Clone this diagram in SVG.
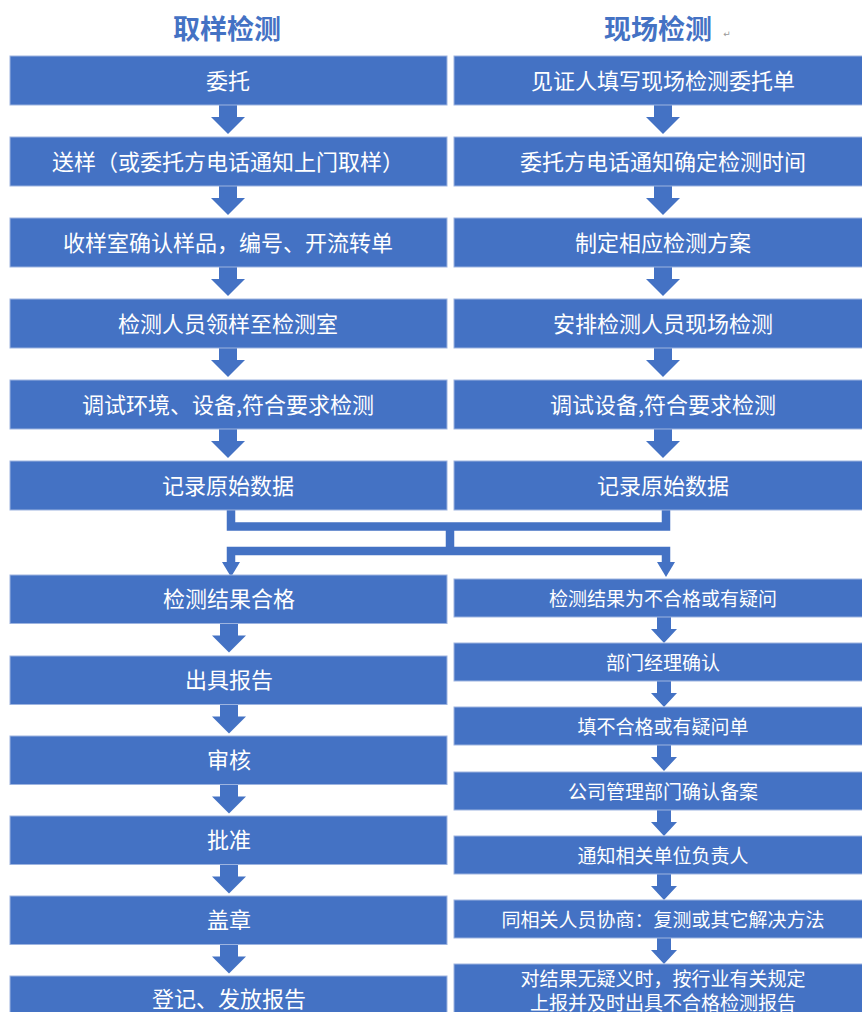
<svg xmlns="http://www.w3.org/2000/svg" width="862" height="1012" viewBox="0 0 862 1012">
<style>
.box{fill:#4472C4;stroke:#9DB4E0;stroke-width:1}
.t{fill:#fff;font-family:"Noto Sans CJK SC","Noto Sans",sans-serif;text-anchor:middle;dominant-baseline:central}
.tl{font-size:22px}
.ts{font-size:19px}
.title{fill:#4472C4;font-family:"Noto Sans CJK SC","Noto Sans",sans-serif;font-weight:bold;font-size:27px;text-anchor:middle;dominant-baseline:central}
.ln{fill:none;stroke:#4472C4;stroke-width:8.5;stroke-linejoin:miter}
.ar{fill:#4472C4}
</style>
<defs>
<path id="big" d="M-9,0 H9 V12 H17 L0,29 L-17,12 H-9 Z"/>
<path id="small" d="M-7,0 H7 V12 H13 L0,26 L-13,12 H-7 Z"/>
</defs>
<rect width="862" height="1012" fill="#fff"/>
<g id="titles">
<text class="title" x="227" y="27">取样检测</text>
<text class="title" x="658" y="27">现场检测</text>
<text x="727" y="34" fill="#999" font-size="9" font-family="DejaVu Sans,sans-serif" text-anchor="middle" dominant-baseline="central">↵</text>
</g>
<g id="connectors">
<g class="ar">
<use href="#big" x="228" y="105"/>
<use href="#big" x="228" y="186"/>
<use href="#big" x="228" y="267"/>
<use href="#big" x="228" y="348"/>
<use href="#big" x="228" y="429"/>
<use href="#big" x="663" y="105"/>
<use href="#big" x="663" y="186"/>
<use href="#big" x="663" y="267"/>
<use href="#big" x="663" y="348"/>
<use href="#big" x="663" y="429"/>
<use href="#big" x="229" y="623.5"/>
<use href="#big" x="229" y="704.5"/>
<use href="#big" x="229" y="784.5"/>
<use href="#big" x="229" y="864.5"/>
<use href="#big" x="229" y="944.5"/>
<use href="#small" x="664" y="617"/>
<use href="#small" x="664" y="681"/>
<use href="#small" x="664" y="745"/>
<use href="#small" x="664" y="810"/>
<use href="#small" x="664" y="874"/>
<use href="#small" x="664" y="938"/>
</g>
<path class="ln" d="M231,510 V526.5 H666 V510"/>
<path class="ln" d="M450,530 V552"/>
<path class="ln" d="M231,563 V551 H666 V563"/>
<polygon class="ar" points="222,562 240,562 231,577"/>
<polygon class="ar" points="657,562 675,562 666,577"/>
</g>
<g id="n1"><rect class="box" x="10" y="56" width="437" height="49"/><text class="t tl" x="228" y="78.5">委托</text></g>
<g id="n2"><rect class="box" x="10" y="137" width="437" height="49"/><text class="t tl" x="228" y="159.5">送样（或委托方电话通知上门取样）</text></g>
<g id="n3"><rect class="box" x="10" y="218" width="437" height="49"/><text class="t tl" x="228" y="240.5">收样室确认样品，编号、开流转单</text></g>
<g id="n4"><rect class="box" x="10" y="299" width="437" height="49"/><text class="t tl" x="228" y="321.5">检测人员领样至检测室</text></g>
<g id="n5"><rect class="box" x="10" y="380" width="437" height="49"/><text class="t tl" x="228" y="402.5">调试环境、设备,符合要求检测</text></g>
<g id="n6"><rect class="box" x="10" y="461" width="437" height="49"/><text class="t tl" x="228" y="483.5">记录原始数据</text></g>
<g id="r1"><rect class="box" x="454" y="56" width="420" height="49"/><text class="t tl" x="663" y="78.5">见证人填写现场检测委托单</text></g>
<g id="r2"><rect class="box" x="454" y="137" width="420" height="49"/><text class="t tl" x="663" y="159.5">委托方电话通知确定检测时间</text></g>
<g id="r3"><rect class="box" x="454" y="218" width="420" height="49"/><text class="t tl" x="663" y="240.5">制定相应检测方案</text></g>
<g id="r4"><rect class="box" x="454" y="299" width="420" height="49"/><text class="t tl" x="663" y="321.5">安排检测人员现场检测</text></g>
<g id="r5"><rect class="box" x="454" y="380" width="420" height="49"/><text class="t tl" x="663" y="402.5">调试设备,符合要求检测</text></g>
<g id="r6"><rect class="box" x="454" y="461" width="420" height="49"/><text class="t tl" x="663" y="483.5">记录原始数据</text></g>
<g id="b1"><rect class="box" x="10" y="575" width="437" height="48.5"/><text class="t tl" x="229" y="597">检测结果合格</text></g>
<g id="b2"><rect class="box" x="10" y="656" width="437" height="48.5"/><text class="t tl" x="229" y="678">出具报告</text></g>
<g id="b3"><rect class="box" x="10" y="736" width="437" height="48.5"/><text class="t tl" x="229" y="758">审核</text></g>
<g id="b4"><rect class="box" x="10" y="816" width="437" height="48.5"/><text class="t tl" x="229" y="838">批准</text></g>
<g id="b5"><rect class="box" x="10" y="896" width="437" height="48.5"/><text class="t tl" x="229" y="918">盖章</text></g>
<g id="b6"><rect class="box" x="10" y="976" width="437" height="48.5"/><text class="t tl" x="229" y="997">登记、发放报告</text></g>
<g id="s1"><rect class="box" x="454" y="579" width="420" height="38"/><text class="t ts" x="663" y="597">检测结果为不合格或有疑问</text></g>
<g id="s2"><rect class="box" x="454" y="643" width="420" height="38"/><text class="t ts" x="663" y="661">部门经理确认</text></g>
<g id="s3"><rect class="box" x="454" y="707" width="420" height="38"/><text class="t ts" x="663" y="725">填不合格或有疑问单</text></g>
<g id="s4"><rect class="box" x="454" y="772" width="420" height="38"/><text class="t ts" x="663" y="790">公司管理部门确认备案</text></g>
<g id="s5"><rect class="box" x="454" y="836" width="420" height="38"/><text class="t ts" x="663" y="854">通知相关单位负责人</text></g>
<g id="s6"><rect class="box" x="454" y="900" width="420" height="38"/><text class="t ts" x="663" y="918">同相关人员协商：复测或其它解决方法</text></g>
<g id="s7"><rect class="box" x="454" y="964" width="420" height="60"/><text class="t ts" x="663" y="977">对结果无疑义时，按行业有关规定<tspan x="663" dy="24">上报并及时出具不合格检测报告</tspan></text></g>
</svg>
